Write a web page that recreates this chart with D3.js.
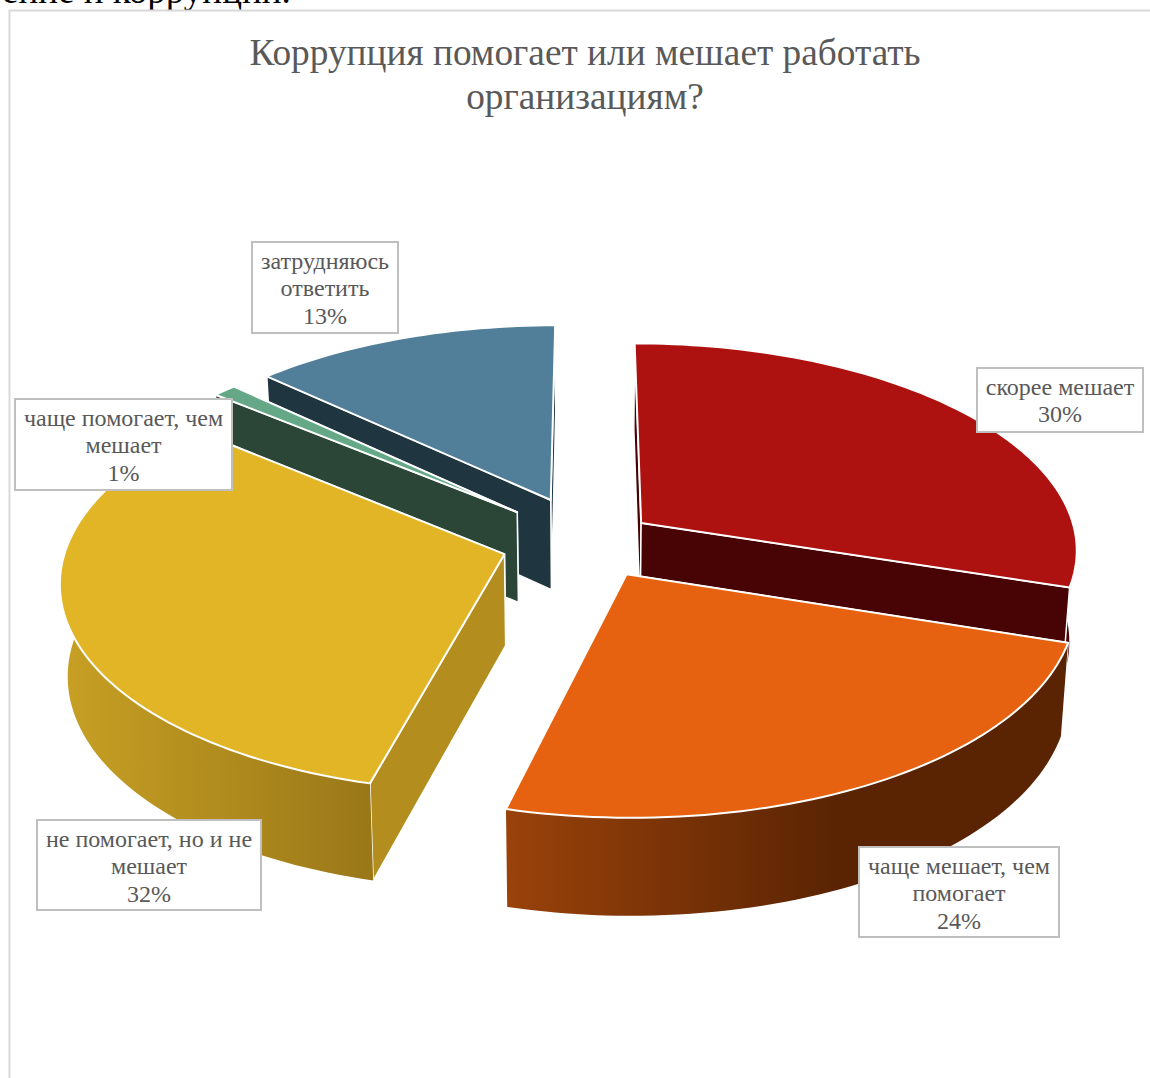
<!DOCTYPE html>
<html><head><meta charset="utf-8">
<script src="https://cdn.jsdelivr.net/npm/d3@7/dist/d3.min.js"></script>
<style>html,body{margin:0;padding:0;background:#fff;overflow:hidden}svg{display:block}text{font-family:"Liberation Serif",serif}</style>
</head><body><svg id="c" width="1150" height="1078"></svg>
<script>
const categories = ["скорее мешает","чаще мешает, чем помогает","не помогает, но и не мешает","чаще помогает, чем мешает","затрудняюсь ответить"];
const values = [30,24,32,1,13];
const percentLabels = ["30%","24%","32%","1%","13%"];
const titleLines = ["Коррупция помогает или мешает работать","организациям?"];

const topColors = ["#ad1210","#e66210","#e2b526","#64a888","#517f99"];
const wallColors = ["#480404","#5a2403","#b38e1e","#2b4536","#1f3540"];
const rimLeft = ["#480404","#9a420a","#c8a024","#2b4536","#1f3540"];
const rimRight = ["#480404","#5a2403","#9a7818","#2b4536","#1f3540"];
const labelLines = [["скорее мешает"],["чаще мешает, чем","помогает"],["не помогает, но и не","мешает"],["чаще помогает, чем","мешает"],["затрудняюсь","ответить"]];
const labelBoxes = [[977,368,166,64],[859,847,200,90],[37,820,224,90],[15,399,217,91],[252,242,146,91]];
const drawOrder = [4,3,0,2,1];
const explodeBy = [0.175,0.175,0.19,0.245,0.25];
const nudge = [[-2,-1],[7,-3],[2,-3],[14,0],[11,1]];
const rimFirst = [true,false,false,true,true];

const svg = d3.select("#c");
const cx=582, cy=545, Rx=437, Ry=206, k=0.12, depth=91;
const proj=(X,Y,bottom,n)=>{
  const w=1+k*Y;
  let sx=Rx*X/w, sy=-Ry*Y/w;
  if(bottom){ sx*=0.985; sy+=depth/Math.sqrt(w); }
  return [cx+sx+n[0], cy+sy+n[1]];
};
const arcs=d3.pie().sort(null).value(d=>d)(values);
const defs=svg.append("defs");
const line=d3.line();

svg.append("text").attr("x",2).attr("y",3).attr("font-size",37).attr("fill","#000").text("ение и коррупции.");
svg.append("path").attr("d","M9.5,1078V10.5H1150").attr("fill","none").attr("stroke","#d9d9d9").attr("stroke-width",2);

titleLines.forEach((t,i)=>svg.append("text").attr("x",585).attr("y",65+i*44).attr("text-anchor","middle")
  .attr("font-size",37.3).attr("fill","#595959").text(t));

drawOrder.forEach(i=>{
  const a=arcs[i], mid=(a.startAngle+a.endAngle)/2, e=explodeBy[i], nd=nudge[i];
  const X0=e*Math.sin(mid), Y0=e*Math.cos(mid);
  const n=Math.max(4,Math.ceil((a.endAngle-a.startAngle)*40));
  const angs=d3.range(n+1).map(j=>a.startAngle+(a.endAngle-a.startAngle)*j/n);
  const world=angs.map(t=>[X0+Math.sin(t),Y0+Math.cos(t)]);
  const top=world.map(p=>proj(p[0],p[1],false,nd));
  const bot=world.map(p=>proj(p[0],p[1],true,nd));
  const apexT=proj(X0,Y0,false,nd), apexB=proj(X0,Y0,true,nd);
  const g=svg.append("g");
  const xs=top.map(p=>p[0]);
  const gid="rim"+i;
  const lg=defs.append("linearGradient").attr("id",gid).attr("gradientUnits","userSpaceOnUse")
    .attr("x1",d3.min(xs)).attr("x2",i===1?d3.min(xs)+330:i===2?370:d3.max(xs)).attr("y1",0).attr("y2",0);
  lg.append("stop").attr("offset",0).attr("stop-color",rimLeft[i]);
  lg.append("stop").attr("offset",1).attr("stop-color",rimRight[i]);
  const wall=(p,q,r,s)=>g.append("path").attr("d",line([p,q,r,s])+"Z").attr("fill",wallColors[i])
    .attr("stroke","#fff").attr("stroke-width",1.5).attr("stroke-linejoin","round");
  const drawRim=()=>g.append("path").attr("d",line(top.concat(bot.slice().reverse()))+"Z").attr("fill",`url(#${gid})`);
  const drawWalls=()=>{
    const w=[[top[0],bot[0]],[top[n],bot[n]]].sort((u,v)=>u[0][1]-v[0][1]);
    w.forEach(p=>wall(apexT,p[0],p[1],apexB));
  };
  if(rimFirst[i]){drawRim();drawWalls();}else{drawWalls();drawRim();}
  g.append("path").attr("d",line([apexT].concat(top))+"Z").attr("fill",topColors[i])
    .attr("stroke","#fff").attr("stroke-width",2).attr("stroke-linejoin","round");
});

categories.forEach((c,i)=>{
  const [x,y,w,h]=labelBoxes[i];
  svg.append("rect").attr("x",x).attr("y",y).attr("width",w).attr("height",h)
    .attr("fill","#fff").attr("stroke","#bfbfbf").attr("stroke-width",2);
  const lines=labelLines[i].concat([percentLabels[i]]);
  lines.forEach((t,j)=>svg.append("text").attr("x",x+w/2).attr("y",y+27+j*27.3).attr("text-anchor","middle")
    .attr("font-size",24).attr("fill","#595959").text(t));
});
</script></body></html>
